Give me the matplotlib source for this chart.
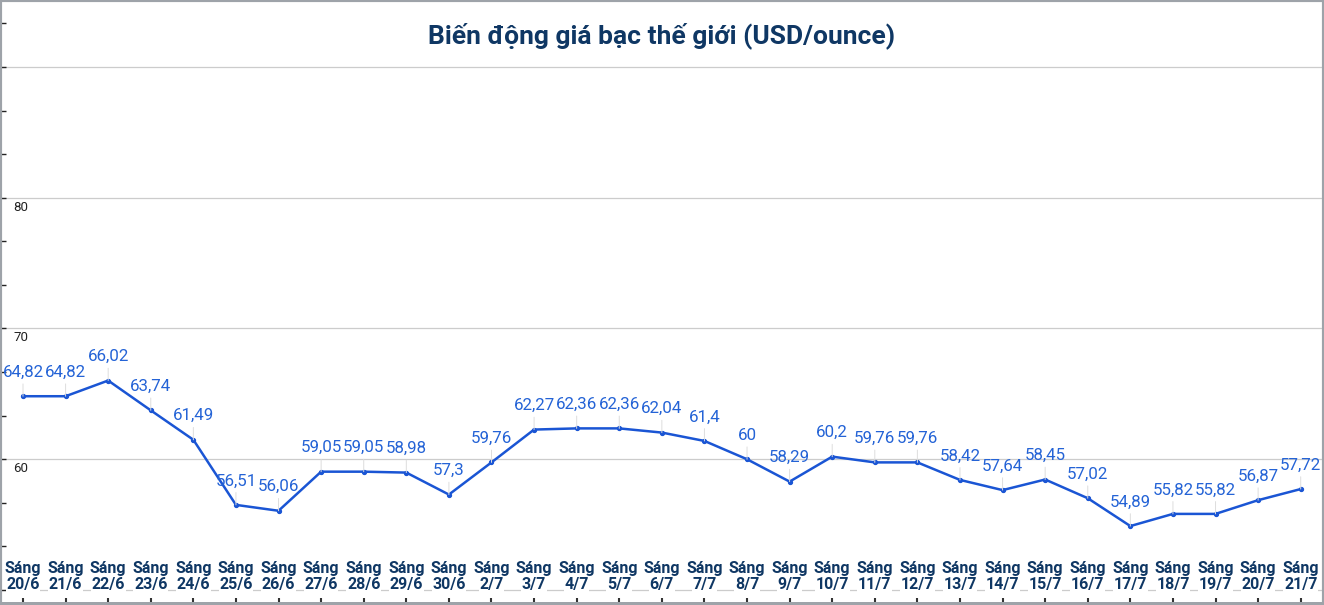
import numpy as np
import matplotlib
matplotlib.use("Agg")
import matplotlib.pyplot as plt
from matplotlib import transforms
from matplotlib.patches import Rectangle

plt.rcParams['font.family'] = ['Roboto', 'DejaVu Sans']

dates = ['20/6', '21/6', '22/6', '23/6', '24/6', '25/6', '26/6', '27/6', '28/6',
         '29/6', '30/6', '2/7', '3/7', '4/7', '5/7', '6/7', '7/7', '8/7', '9/7',
         '10/7', '11/7', '12/7', '13/7', '14/7', '15/7', '16/7', '17/7', '18/7',
         '19/7', '20/7', '21/7']
prices = [64.82, 64.82, 66.02, 63.74, 61.49, 56.51, 56.06, 59.05, 59.05, 58.98,
          57.3, 59.76, 62.27, 62.36, 62.36, 62.04, 61.4, 60, 58.29, 60.2, 59.76,
          59.76, 58.42, 57.64, 58.45, 57.02, 54.89, 55.82, 55.82, 56.87, 57.72]
grid_vals = [50, 60, 70, 80, 90]
ylabel_vals = [60, 70, 80]

title = 'Biến động giá bạc thế giới (USD/ounce)'
line_color = '#1a55d4'
label_color = '#2463d6'
navy = '#0f3764'

fig = plt.figure(figsize=(13.24, 6.05), dpi=100)
ax = fig.add_axes([0, 0, 1, 1])
x = np.arange(len(prices))

ax.set_xlim(-0.54, 30.547)
ax.set_ylim(48.853, 95.124)
for s in ax.spines.values():
    s.set_visible(False)

for g in grid_vals:
    ax.axhline(g, color='#cccccc', lw=0.9, zorder=0)

ax.plot(x, prices, color=line_color, lw=1.8, marker='o', markersize=2.8, zorder=3)

for i, v in enumerate(prices):
    txt = f"{v:g}".replace('.', ',')
    ax.annotate(txt, xy=(i, v), xytext=(0, 24), textcoords='offset pixels',
                ha='center', va='center', fontsize=12.2, color=label_color,
                arrowprops=dict(arrowstyle='-', color='#dddddd', lw=0.7,
                                shrinkA=1, shrinkB=0), zorder=4)

# y axis: ticks every 10/3 units, labels inside
yt = [50 + k * 10 / 3 for k in range(14)]
ax.set_yticks(yt)
ax.set_yticklabels([])
ax.tick_params(axis='y', direction='in', length=4, width=1, color='#222222', left=True)
ax.set_yticks(grid_vals, minor=True)
ax.tick_params(axis='y', which='minor', direction='in', length=6, width=1, color='#222222')

ytrans = transforms.blended_transform_factory(ax.transAxes, ax.transData)
for v in ylabel_vals:
    t = transforms.offset_copy(ytrans, fig=fig, x=13, y=-3, units='dots')
    ax.text(0, v, str(v), transform=t, ha='left', va='top', fontsize=9.5, color='#222222')

# x axis: labels inside the plot
ax.set_xticks(x)
ax.set_xticklabels([])
ax.tick_params(axis='x', direction='in', length=5, width=1.5, color='#333333', bottom=True)
xtrans = transforms.blended_transform_factory(ax.transData, ax.transAxes)
for i, d in enumerate(dates):
    ax.text(i, 1 - 569 / 605, 'Sáng', transform=xtrans, ha='center', va='center',
            fontsize=11.5, fontweight='bold', color=navy)
    ax.text(i, 1 - 584 / 605, d, transform=xtrans, ha='center', va='center',
            fontsize=11.5, fontweight='bold', color=navy,
            bbox=dict(facecolor='white', edgecolor='none', pad=0.5))

fig.text(0.5, 1 - 36 / 605, title, ha='center', va='center', fontsize=19,
         fontweight='bold', color=navy)

fig.add_artist(Rectangle((0, 0), 1, 1, transform=fig.transFigure, fill=False,
                         edgecolor='#9ea3a9', lw=3))
fig.add_artist(Rectangle((0, 0), 1, 3 / 605, transform=fig.transFigure, fill=True,
                         facecolor='#9ea3a9', lw=0))

fig.savefig('out.png', dpi=100)
